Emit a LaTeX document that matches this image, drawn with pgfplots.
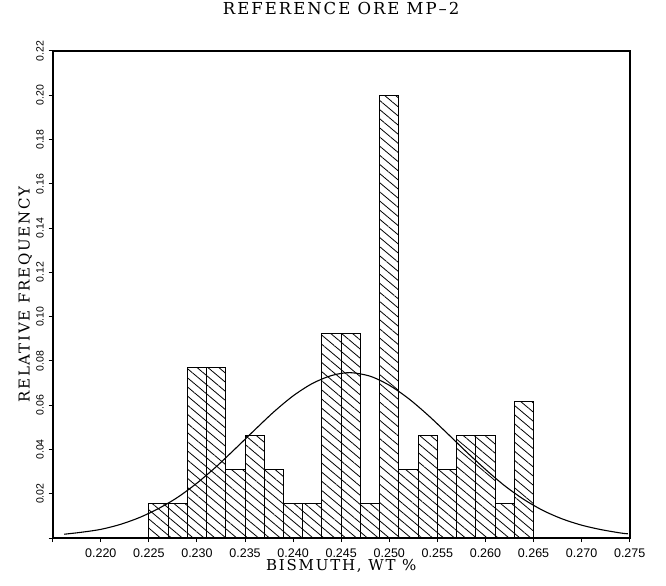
\documentclass[border=0pt]{standalone}
\usepackage{fontspec}
\setmainfont{DejaVu Serif}
\newfontfamily\tickfont{Liberation Sans}
\usepackage{pgfplots}
\pgfplotsset{compat=1.18}
\usetikzlibrary{patterns.meta}

\begin{document}
\begin{tikzpicture}
\useasboundingbox (0,0) rectangle (666bp,586bp);
\begin{axis}[
  at={(52.7bp,48bp)}, anchor=south west,
  scale only axis, width=577bp, height=487bp,
  xmin=0.215, xmax=0.275, ymin=0, ymax=0.22,
  xtick pos=lower, ytick pos=left,
  xtick={0.215,0.220,0.225,0.230,0.235,0.240,0.245,0.250,0.255,0.260,0.265,0.270,0.275},
  xticklabels={,0.220,0.225,0.230,0.235,0.240,0.245,0.250,0.255,0.260,0.265,0.270,0.275},
  ytick={0,0.02,0.04,0.06,0.08,0.10,0.12,0.14,0.16,0.18,0.20,0.22},
  yticklabels={,0.02,0.04,0.06,0.08,0.10,0.12,0.14,0.16,0.18,0.20,0.22},
  tick align=outside, major tick length=4bp,
  tick style={line width=1bp,black},
  axis line style={line width=1.6bp},
  xticklabel style={font=\tickfont\fontsize{12.5bp}{12.5bp}\selectfont, anchor=base, yshift=-15bp},
  yticklabel style={font=\tickfont\fontsize{10.5bp}{10.5bp}\selectfont, rotate=90, anchor=base, yshift=5bp},
  title={\addfontfeature{LetterSpace=12}REFERENCE ORE MP--2},
  title style={font=\fontsize{16.5bp}{18bp}\selectfont, at={(0.5,1)}, anchor=base, yshift=31bp},
  xlabel={\addfontfeature{LetterSpace=12}BISMUTH,\ WT \%},
  xlabel style={font=\fontsize{15bp}{16bp}\selectfont, at={(0.5,0)}, anchor=base, yshift=-32bp},
  ylabel={\addfontfeature{LetterSpace=12}RELATIVE FREQUENCY},
  ylabel style={font=\fontsize{15bp}{16bp}\selectfont, at={(0,0.5)}, anchor=base, yshift=23bp},
]
\addplot[ybar interval, draw=black, line width=1bp,
  pattern={Lines[angle=-40,distance=7bp,line width=0.8bp]}] coordinates {
  (0.225,0.01538) (0.227,0.01538) (0.229,0.07692) (0.231,0.07692)
  (0.233,0.03077) (0.235,0.04615) (0.237,0.03077) (0.239,0.01538)
  (0.241,0.01538) (0.243,0.09231) (0.245,0.09231) (0.247,0.01538)
  (0.249,0.20000) (0.251,0.03077) (0.253,0.04615) (0.255,0.03077)
  (0.257,0.04615) (0.259,0.04615) (0.261,0.01538) (0.263,0.06154)
  (0.265,0)
};
\addplot[smooth, line width=1.1bp, black] coordinates {
  (0.2162,0.0017) (0.218,0.0026) (0.220,0.0039) (0.222,0.0061)
  (0.224,0.0092) (0.226,0.0133) (0.228,0.0184) (0.230,0.0248)
  (0.232,0.0322) (0.234,0.0404) (0.236,0.0488) (0.238,0.0570)
  (0.240,0.0642) (0.242,0.0698) (0.244,0.0734) (0.2459,0.0747)
  (0.248,0.0731) (0.250,0.0690) (0.252,0.0630) (0.254,0.0556)
  (0.256,0.0474) (0.258,0.0390) (0.260,0.0310) (0.262,0.0236)
  (0.264,0.0174) (0.266,0.0124) (0.268,0.0086) (0.270,0.0058)
  (0.272,0.0038) (0.274,0.0023) (0.2748,0.0019)
};
\end{axis}
\end{tikzpicture}
\end{document}
